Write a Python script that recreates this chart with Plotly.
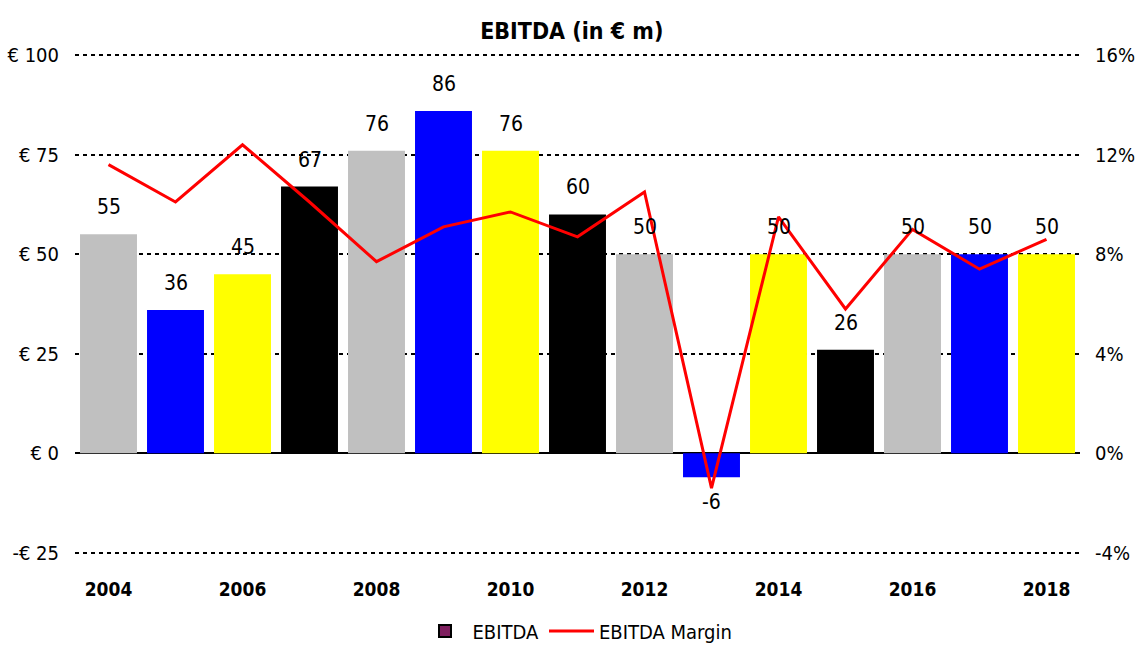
import plotly.graph_objects as go

years = list(range(2004, 2019))
ebitda = [55, 36, 45, 67, 76, 86, 76, 60, 50, -6, 50, 26, 50, 50, 50]
ebitda_labels = ["55", "36", "45", "67", "76", "86", "76", "60", "50", "-6", "50", "26", "50", "50", "50"]
margin_pct = [11.6, 10.1, 12.4, 10.1, 7.7, 9.1, 9.7, 8.7, 10.5, -1.4, 9.5, 5.8, 9.0, 7.4, 8.6]
bar_palette = ["#C0C0C0", "#0000FF", "#FFFF00", "#000000"]
bar_colors = [bar_palette[i % 4] for i in range(len(years))]

left_ticks = [-25, 0, 25, 50, 75, 100]
left_ticktext = ["-€ 25", "€ 0", "€ 25", "€ 50", "€ 75", "€ 100"]
right_ticks = [-4, 0, 4, 8, 12, 16]
right_ticktext = ["-4%", "0%", "4%", "8%", "12%", "16%"]
x_ticks = [2004, 2006, 2008, 2010, 2012, 2014, 2016, 2018]

FONT = "DejaVu Sans Condensed, Liberation Sans Narrow, Arial, sans-serif"
EPS = 0.3  # small padding so edge gridlines are drawn

fig = go.Figure()
fig.add_trace(go.Bar(
    x=years, y=ebitda, marker=dict(color=bar_colors, line=dict(width=0)),
    showlegend=False, name="EBITDA", width=0.85,
))
# legend entry for EBITDA bars
fig.add_trace(go.Bar(
    x=[years[0]], y=[None], name="EBITDA",
    marker=dict(color="#7F1F5F", line=dict(color="black", width=2)),
    showlegend=True,
))
fig.add_trace(go.Scatter(
    x=years, y=margin_pct, mode="lines", name="EBITDA Margin",
    line=dict(color="#FF0000", width=3), yaxis="y2",
))

for yr, v, lab in zip(years, ebitda, ebitda_labels):
    fig.add_annotation(x=yr, y=v, text=lab, showarrow=False, xref="x", yref="y",
                       yanchor="middle", yshift=27 if v >= 0 else -25,
                       font=dict(size=21, color="black", family=FONT))

fig.update_layout(
    width=1139, height=650,
    paper_bgcolor="white", plot_bgcolor="white",
    margin=dict(l=75, r=59, t=54, b=96, autoexpand=False),
    barmode="overlay",
    title=dict(text="<b>EBITDA (in € m)</b>", x=0.502, xanchor="center", y=0.953, yanchor="middle",
               yref="container", font=dict(size=23, color="black", family=FONT)),
    font=dict(family=FONT, color="black"),
    xaxis=dict(range=[2003.5, 2018.5], tickvals=x_ticks, ticktext=[f"<b>{y}</b>" for y in x_ticks],
               tickfont=dict(size=19, color="black"), showgrid=False, zeroline=False,
               showline=False, ticks="", ticklabelstandoff=22, automargin=False),
    yaxis=dict(range=[-25 - EPS, 100 + EPS], tickvals=left_ticks, ticktext=left_ticktext,
               tickfont=dict(size=20, color="black"), showgrid=True, gridcolor="black",
               griddash="4px,4px", gridwidth=2, zeroline=True, zerolinecolor="black",
               zerolinewidth=2, ticks="", showline=False, ticklabelstandoff=15, automargin=False),
    yaxis2=dict(range=[-4 - EPS * 0.16, 16 + EPS * 0.16], tickvals=right_ticks, ticktext=right_ticktext,
                overlaying="y", side="right", showgrid=False, zeroline=False,
                tickfont=dict(size=20, color="black"), ticks="", showline=False,
                ticklabelstandoff=14, automargin=False),
    legend=dict(orientation="h", x=0.5, xanchor="center", y=-0.115, yanchor="top",
                font=dict(size=20, color="black"), traceorder="normal", itemwidth=45),
)

fig.write_html("out.html", config={"displayModeBar": False},
               post_script="document.body.style.margin='0';document.body.style.padding='0';")
